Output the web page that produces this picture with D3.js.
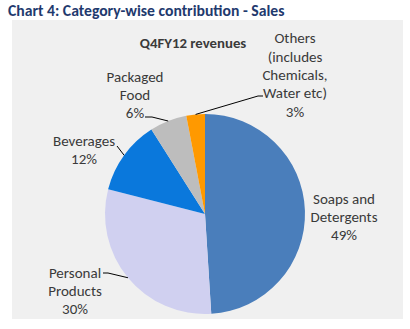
<!DOCTYPE html>
<html lang="en">
  <head>
    <style>
      body { margin: 0; background: #fff; }
      text { font-family: Carlito, Lato, "Open Sans", sans-serif; }
      .lbl { fill: #3a3a3a; font-size: 15px; }
      .leader { stroke: #000; stroke-width: 1; fill: none; }
    </style>
  </head>
  <body>
    <svg id="container" width="410" height="329"></svg>
  </body>
  <script src="https://d3js.org/d3.v7.min.js"></script>
  <script>
// revenue split, Q4FY12
let categories = ["Soaps and Detergents", "Personal Products", "Beverages", "Packaged Food", "Others (includes Chemicals, Water etc)"]
let shares = [49, 30, 12, 6, 3]
let labelLines = [
    ["Soaps and", "Detergents"],
    ["Personal", "Products"],
    ["Beverages"],
    ["Packaged", "Food"],
    ["Others", "(includes", "Chemicals,", "Water etc)"]
]
let colors = ["#4a7ebb", "#d0d0f0", "#0a78dc", "#bdbdbd", "#ff9900"]

// label block centres and leader points, relative to pie centre
let labelAt = [[139, 3], [-130, 77], [-121, -64], [-70, -119], [90, -139]]
let leaderPts = [null, [[-102, 59], [-97, 59]], [[-88, -68]], [[-60, -97], [-53, -97]], [[58, -118], [53, -118]]]

let svg = d3.select("#container")
let cx = 205, cy = 214, radius = 100
let lineH = 18.3

svg.append("text")
    .attr("x", 8).attr("y", 16)
    .attr("font-size", 15.7).attr("font-weight", "bold")
    .attr("fill", "#1f3a6e")
    .text("Chart 4: Category-wise contribution - Sales")

svg.append("rect")
    .attr("x", 12).attr("y", 20)
    .attr("width", 391).attr("height", 299)
    .attr("fill", "#f0f0f0")

svg.append("text")
    .attr("x", 193).attr("y", 43)
    .attr("text-anchor", "middle").attr("dominant-baseline", "central")
    .attr("font-size", 14.8).attr("font-weight", "bold")
    .attr("fill", "#3a3a3a")
    .text("Q4FY12 revenues")

let pie = d3.pie().sort(null).value(d => d)
let arc = d3.arc().innerRadius(0).outerRadius(radius)
let arcs = pie(shares)

let body = svg.append("g").attr("transform", `translate(${cx},${cy})`)

body.selectAll("path.slice")
    .data(arcs)
    .enter()
    .append("path")
        .attr("class", "slice")
        .attr("d", arc)
        .attr("fill", (d, i) => colors[i])

// leader lines from slice edge (mid-angle) to label
body.selectAll("polyline")
    .data(arcs.filter((d, i) => leaderPts[i]))
    .enter()
    .append("polyline")
        .attr("class", "leader")
        .attr("points", d => {
            let pts = leaderPts[d.index].slice().reverse()
            let mid = (d.startAngle + d.endAngle) / 2
            let p = [Math.sin(mid) * radius, -Math.cos(mid) * radius]
            return [p].concat(pts).map(q => q.join(",")).join(" ")
        })

let labels = body.selectAll("text.lbl")
    .data(arcs)
    .enter()
    .append("text")
        .attr("class", "lbl")
        .attr("text-anchor", "middle")

labels.each(function (d, i) {
    let lines = labelLines[i].concat([shares[i] + "%"])
    let top = labelAt[i][1] - (lines.length - 1) * lineH / 2
    d3.select(this).selectAll("tspan")
        .data(lines)
        .enter()
        .append("tspan")
            .attr("x", labelAt[i][0])
            .attr("y", (t, j) => top + j * lineH)
            .attr("dominant-baseline", "central")
            .text(t => t)
})
  </script>
</html>
